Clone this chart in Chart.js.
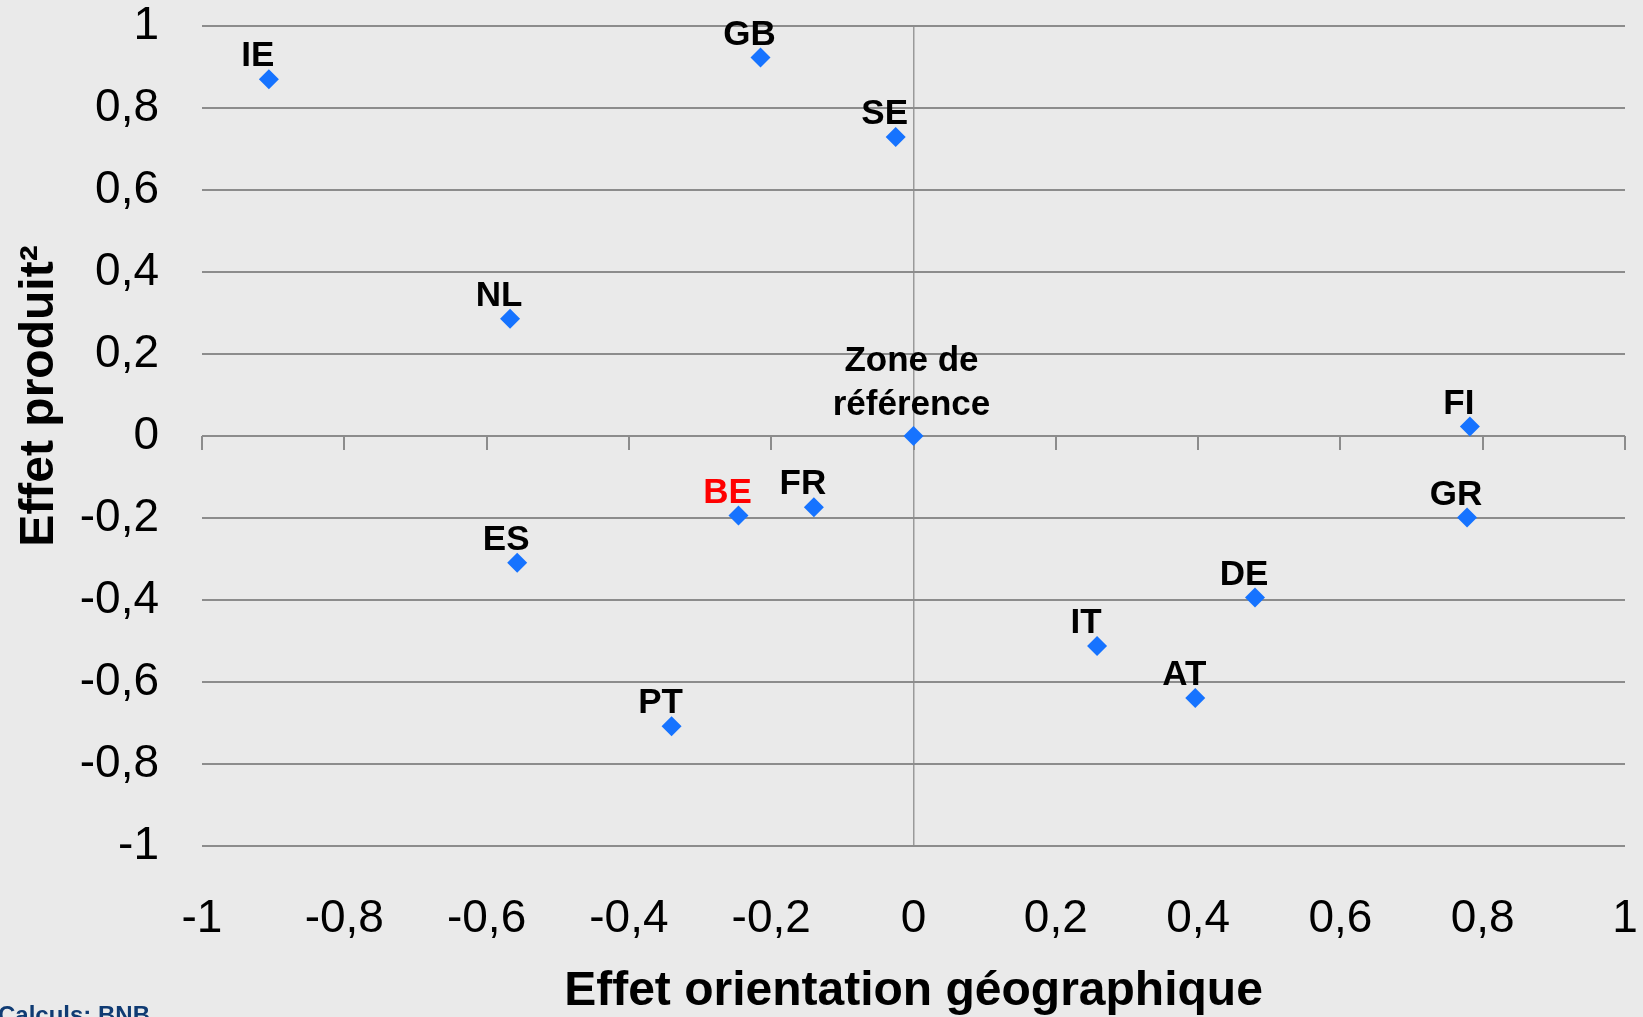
<!DOCTYPE html>
<html>
<head>
<meta charset="utf-8">
<script src="https://cdn.jsdelivr.net/npm/chart.js@4.4.0/dist/chart.umd.min.js"></script>
<style>
    html, body { margin: 0; padding: 0; background: #eaeaea; overflow: hidden; }
</style>
</head>
<body>
<canvas id="chart" width="1643" height="1017"></canvas>
<script>
const countries = ['IE', 'GB', 'SE', 'NL', 'Zone de\nréférence', 'FI', 'GR', 'BE', 'FR', 'ES', 'DE', 'IT', 'AT', 'PT'];
const geoEffect = [-0.906, -0.215, -0.025, -0.567, 0, 0.782, 0.778, -0.246, -0.140, -0.557, 0.480, 0.258, 0.396, -0.340];
const productEffect = [0.870, 0.923, 0.729, 0.286, 0, 0.023, -0.199, -0.194, -0.174, -0.309, -0.394, -0.512, -0.639, -0.708];
const highlighted = ['BE'];
const xTickLabels = ['-1', '-0,8', '-0,6', '-0,4', '-0,2', '0', '0,2', '0,4', '0,6', '0,8', '1'];
const yTickLabels = ['-1', '-0,8', '-0,6', '-0,4', '-0,2', '0', '0,2', '0,4', '0,6', '0,8', '1'];

const FONT = "'Liberation Sans', Arial, sans-serif";
const GRID = '#8c8c8c';

// tick marks hanging under the zero line
const zeroAxisTicks = {
    id: 'zeroAxisTicks',
    beforeDatasetsDraw(chart) {
        const {ctx, scales: {x, y}} = chart;
        const y0 = y.getPixelForValue(0);
        ctx.save();
        ctx.strokeStyle = GRID;
        ctx.lineWidth = 2;
        x.ticks.forEach(t => {
            const px = Math.round(x.getPixelForValue(t.value));
            ctx.beginPath();
            ctx.moveTo(px, y0);
            ctx.lineTo(px, y0 + 14);
            ctx.stroke();
        });
        ctx.restore();
    }
};

const pointLabels = {
    id: 'pointLabels',
    afterDatasetsDraw(chart) {
        const {ctx} = chart;
        const meta = chart.getDatasetMeta(0);
        ctx.save();
        ctx.font = 'bold 35px ' + FONT;
        ctx.textAlign = 'center';
        ctx.textBaseline = 'alphabetic';
        meta.data.forEach((pt, i) => {
            const lines = countries[i].split('\n');
            ctx.fillStyle = highlighted.includes(countries[i]) ? '#ff0000' : '#000000';
            if (lines.length > 1) {
                lines.forEach((line, j) => {
                    ctx.fillText(line, pt.x - 2, pt.y - 21 - (lines.length - 1 - j) * 44);
                });
            } else {
                ctx.fillText(lines[0], pt.x - 11, pt.y - 13);
            }
        });
        ctx.restore();
    }
};

const sourceNote = {
    id: 'sourceNote',
    afterDraw(chart) {
        const {ctx} = chart;
        ctx.save();
        ctx.font = 'bold 24px ' + FONT;
        ctx.fillStyle = '#103b73';
        ctx.textAlign = 'left';
        ctx.textBaseline = 'alphabetic';
        ctx.fillText('Calculs: BNB', -2, 1023);
        ctx.restore();
    }
};

const ctx = document.getElementById('chart').getContext('2d');
const chart = new Chart(ctx, {
    type: 'scatter',
    data: {
        datasets: [{
            data: geoEffect.map((v, i) => ({x: v, y: productEffect[i]})),
            pointStyle: 'rectRot',
            pointRadius: 10,
            pointHoverRadius: 10,
            backgroundColor: '#1673ff',
            borderColor: '#1673ff',
            borderWidth: 0,
        }],
    },
    options: {
        responsive: false,
        animation: false,
        events: [],
        layout: {
            padding: {left: 11, right: 18, top: 26, bottom: 0},
        },
        plugins: {
            legend: {display: false},
            tooltip: {enabled: false},
        },
        scales: {
            x: {
                type: 'linear',
                min: -1,
                max: 1,
                afterFit: s => {
                    s.height = 171;
                    s.paddingLeft = 0;
                    s.paddingRight = 0;
                },
                border: {display: false},
                grid: {
                    drawTicks: false,
                    color: c => Math.abs(c.tick.value) < 1e-9 ? '#9a9a9a' : 'rgba(0,0,0,0)',
                    lineWidth: 1.5,
                },
                ticks: {
                    stepSize: 0.2,
                    padding: 46,
                    color: '#000',
                    font: {family: FONT, size: 46},
                    callback: (v, i) => xTickLabels[i],
                },
                title: {
                    display: true,
                    text: 'Effet orientation géographique',
                    color: '#000',
                    font: {family: FONT, size: 48, weight: 'bold', lineHeight: 1.05},
                    padding: 0,
                },
            },
            y: {
                type: 'linear',
                min: -1,
                max: 1,
                afterFit: s => {
                    s.width = 191;
                    s.paddingTop = 0;
                    s.paddingBottom = 0;
                },
                border: {display: false},
                grid: {
                    drawTicks: false,
                    color: GRID,
                    lineWidth: 2,
                },
                ticks: {
                    stepSize: 0.2,
                    padding: 43,
                    color: '#000',
                    font: {family: FONT, size: 46},
                    callback: (v, i) => yTickLabels[i],
                },
                title: {
                    display: true,
                    text: '      Effet produit²',
                    color: '#000',
                    font: {family: FONT, size: 48, weight: 'bold'},
                    padding: 0,
                },
            },
        },
    },
    plugins: [zeroAxisTicks, pointLabels, sourceNote],
});
</script>
</body>
</html>
